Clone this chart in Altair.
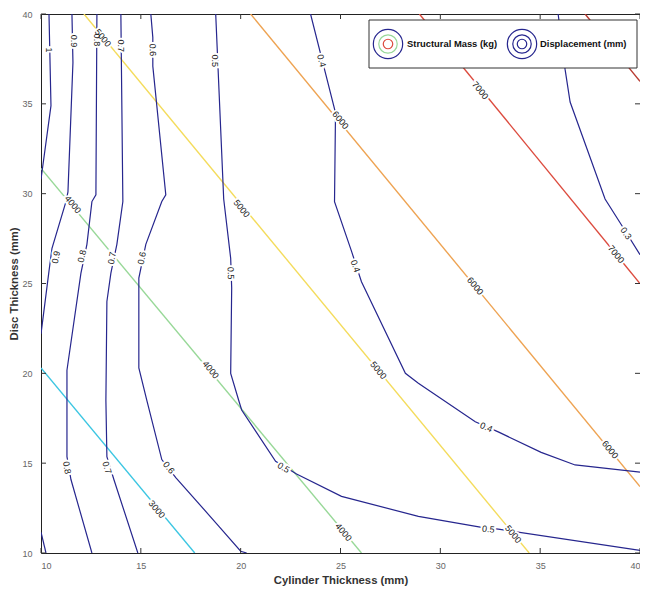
import altair as alt
import pandas as pd

# ---------------- data ----------------
x_ticks = [10, 15, 20, 25, 30, 35, 40]
y_ticks = [10, 15, 20, 25, 30, 35, 40]

# Structural mass contours (kg)
mass_levels = ["3000", "4000", "5000", "6000", "7000", "8000"]
mass_colors = ["#3cc6e2", "#98d898", "#f4dc5c", "#eea352", "#dc4b3e", "#b83a30"]
mass_x = [[10.0, 17.7], [10.0, 26.05], [12.15, 34.45], [20.5, 40.0], [28.95, 40.0], [37.25, 40.0]]
mass_y = [[20.3, 10.0], [31.4, 10.0], [40.0, 10.0], [40.0, 13.7], [40.0, 25.0], [40.0, 36.25]]

# Displacement contours (mm), one entry per drawn segment
disp_level = ["1", "0.9", "0.9", "0.8", "0.7", "0.6", "0.5", "0.4", "0.3"]
disp_x = [
    [10.4, 10.5, 10.0],
    [11.55, 11.6, 11.35, 11.25, 10.55, 10.4, 10.0],
    [10.0, 10.25],
    [12.8, 12.75, 12.55, 12.3, 12.0, 11.3, 11.3, 11.5, 12.55],
    [14.0, 14.1, 13.8, 13.5, 13.3, 13.25, 13.3, 13.65, 14.85],
    [15.5, 15.6, 15.6, 16.25, 16.05, 15.25, 14.9, 14.9, 15.3, 16.05, 16.75, 18.9, 20.0, 20.3],
    [18.75, 19.15, 19.5, 19.55, 19.5, 19.9, 20.05, 21.75, 22.8, 25.05, 28.9, 32.0, 32.9, 40.0],
    [23.5, 24.25, 24.75, 24.7, 25.55, 26.05, 28.25, 28.9, 31.75, 32.9, 35.05, 36.75, 40.0],
    [35.9, 36.25, 36.5, 38.25, 39.05, 40.0],
]
disp_y = [
    [40.0, 34.9, 30.8],
    [40.0, 37.3, 30.1, 29.56, 26.96, 25.69, 22.2],
    [11.16, 10.0],
    [40.0, 29.94, 29.56, 27.18, 25.58, 20.17, 15.36, 14.09, 10.0],
    [40.0, 29.56, 27.18, 25.58, 24.0, 18.5, 15.36, 14.09, 10.0],
    [40.0, 38.7, 37.1, 29.94, 29.56, 27.18, 25.3, 20.3, 18.5, 15.2, 14.2, 11.5, 10.1, 10.0],
    [40.0, 29.7, 26.4, 24.75, 20.0, 18.5, 17.96, 15.1, 14.4, 13.15, 12.04, 11.44, 11.33, 10.15],
    [40.0, 36.7, 34.5, 29.56, 26.8, 25.1, 20.0, 19.45, 17.3, 16.74, 15.6, 14.9, 14.5],
    [40.0, 36.9, 35.1, 29.7, 28.3, 26.6],
]

# Contour labels
label_text = ["1", "0.9", "0.8", "5000", "0.7", "0.6", "0.5", "0.4", "6000", "7000",
              "5000", "0.5", "0.4", "4000", "0.9", "0.8", "0.7", "0.6", "4000", "0.8",
              "0.7", "0.6", "3000", "4000", "0.5", "0.4", "6000", "0.5", "5000", "6000",
              "7000", "0.3", "5000"]
label_x = [10.4, 11.65, 12.8, 13.1, 14.0, 15.6, 18.7, 24.05, 25.0, 32.0,
           20.05, 19.5, 25.75, 11.6, 10.75, 12.05, 13.55, 15.05, 18.5, 11.3,
           13.3, 16.4, 15.8, 25.15, 22.15, 32.3, 38.5, 32.4, 33.65, 31.75,
           38.8, 39.3, 26.9]
label_y = [38.0, 38.5, 38.56, 38.67, 38.23, 38.0, 37.4, 37.4, 34.09, 35.75,
           29.17, 25.58, 25.97, 29.4, 26.46, 26.52, 26.41, 26.41, 20.2, 14.75,
           14.75, 14.75, 12.43, 11.16, 14.75, 17.0, 15.75, 11.33, 11.05, 24.86,
           26.63, 27.79, 20.17]
label_angle = [90, 90, 90, 50.6, 90, 88, 90, 76, 50.7, 50.8,
               50.6, 88, 71, 50.3, -80, -78, -79, -78, 50.3, 80,
               73, 52, 50.4, 50.3, 32, 24, 50.7, 6, 50.6, 50.7,
               50.8, 54, 50.6]

# ---------------- tables ----------------
W, H = 599, 539

mass_rows = []
for lvl, xs, ys in zip(mass_levels, mass_x, mass_y):
    for i, (a, b) in enumerate(zip(xs, ys)):
        mass_rows.append({"level": lvl, "i": i, "x": a, "y": b})
mass_df = pd.DataFrame(mass_rows)

disp_rows = []
for s, (lvl, xs, ys) in enumerate(zip(disp_level, disp_x, disp_y)):
    for i, (a, b) in enumerate(zip(xs, ys)):
        disp_rows.append({"seg": s, "level": lvl, "i": i, "x": a, "y": b})
disp_df = pd.DataFrame(disp_rows)

lab_df = pd.DataFrame({"t": label_text, "x": label_x, "y": label_y, "a": label_angle})
xt_df = pd.DataFrame({"x": x_ticks})
yt_df = pd.DataFrame({"y": y_ticks})
one = pd.DataFrame({"k": [0]})

X = alt.X("x:Q", scale=alt.Scale(domain=[10, 40], nice=False, zero=False),
          axis=alt.Axis(values=x_ticks, title="Cylinder Thickness (mm)", grid=False,
                        ticks=False, domain=False, labelPadding=8, titlePadding=4))
Y = alt.Y("y:Q", scale=alt.Scale(domain=[10, 40], nice=False, zero=False),
          axis=alt.Axis(values=y_ticks, title="Disc Thickness (mm)", grid=False,
                        ticks=False, domain=False, labelPadding=9, titlePadding=2))

mass_lines = alt.Chart(mass_df).mark_line(strokeWidth=1.4, clip=True).encode(
    x=X, y=Y,
    color=alt.Color("level:N", scale=alt.Scale(domain=mass_levels, range=mass_colors), legend=None),
    order="i:Q",
)

disp_lines = alt.Chart(disp_df).mark_line(strokeWidth=1.2, color="#26268e", clip=True).encode(
    x=X, y=Y, detail="seg:N", order="i:Q",
)

halo = alt.Chart(lab_df).mark_text(fontSize=9, font="Liberation Sans", fill="white",
                                   stroke="white", strokeWidth=4).encode(
    x=X, y=Y, text="t:N", angle=alt.Angle("a:Q", scale=None))
labels = alt.Chart(lab_df).mark_text(fontSize=9, font="Liberation Sans", color="#222").encode(
    x=X, y=Y, text="t:N", angle=alt.Angle("a:Q", scale=None))

tick_color = "#333"
xt_bottom = alt.Chart(xt_df).mark_rule(color=tick_color).encode(x=X, y=alt.value(H), y2=alt.value(H - 5))
xt_top = alt.Chart(xt_df).mark_rule(color=tick_color).encode(x=X, y=alt.value(0), y2=alt.value(5))
yt_left = alt.Chart(yt_df).mark_rule(color=tick_color).encode(y=Y, x=alt.value(0), x2=alt.value(5))
yt_right = alt.Chart(yt_df).mark_rule(color=tick_color).encode(y=Y, x=alt.value(W), x2=alt.value(W - 5))

# legend box (drawn)
leg_box = alt.Chart(one).mark_rect(fill="white", stroke="#333", strokeWidth=1).encode(
    x=alt.value(328), x2=alt.value(596), y=alt.value(6), y2=alt.value(54))

def ring(cx, size, color):
    return alt.Chart(one).mark_point(shape="circle", filled=False, size=size,
                                     stroke=color, strokeWidth=1.2, opacity=1).encode(
        x=alt.value(cx), y=alt.value(30))

leg_icons = [
    ring(347, 860, "#26268e"), ring(347, 340, "#98d898"), ring(347, 90, "#dc4b3e"),
    ring(481, 860, "#26268e"), ring(481, 340, "#26268e"), ring(481, 90, "#26268e"),
]
leg_t1 = alt.Chart(one).mark_text(text="Structural Mass (kg)", align="left", baseline="middle",
                                  fontSize=9.4, fontWeight="bold", font="Liberation Sans",
                                  color="#111").encode(x=alt.value(366), y=alt.value(30))
leg_t2 = alt.Chart(one).mark_text(text="Displacement (mm)", align="left", baseline="middle",
                                  fontSize=9.4, fontWeight="bold", font="Liberation Sans",
                                  color="#111").encode(x=alt.value(499), y=alt.value(30))

chart = alt.layer(
    mass_lines, disp_lines, halo, labels,
    xt_bottom, xt_top, yt_left, yt_right,
    leg_box, *leg_icons, leg_t1, leg_t2,
).properties(
    width=W, height=H,
    padding={"left": 33, "top": 6, "right": 0, "bottom": 33},
    autosize=alt.AutoSizeParams(type="none"),
).configure_view(
    stroke="#222", strokeWidth=1
).configure_axis(
    labelFont="Liberation Sans", labelFontSize=9, labelColor="#666",
    titleFont="Liberation Sans", titleFontSize=11.3, titleFontWeight="bold", titleColor="#333",
)

chart.save("out.html", embed_options={"renderer": "svg", "actions": False})
